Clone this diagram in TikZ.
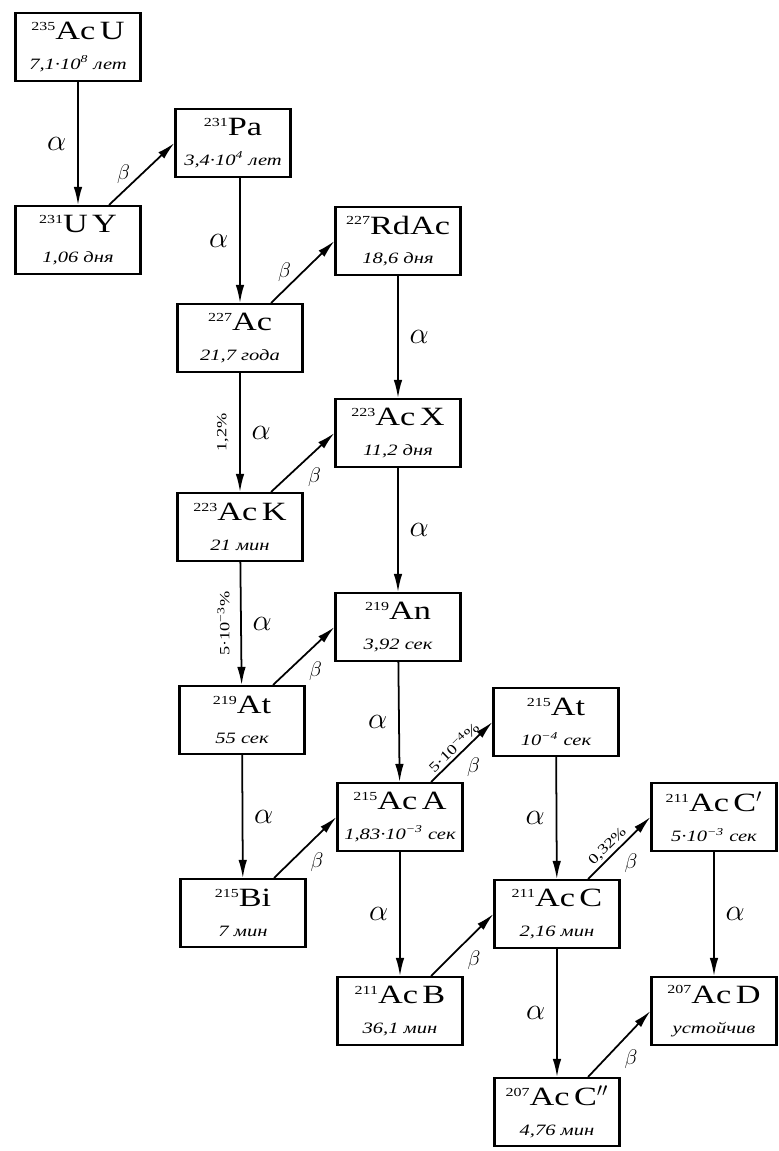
\documentclass[tikz,border=0pt]{standalone}
\usepackage{fontspec}
\setmainfont{Liberation Serif}[FakeStretch=1.3]
\usetikzlibrary{arrows.meta,positioning}

\newcommand{\iso}[2]{\raisebox{5.5pt}{\fontsize{7}{8}\selectfont #1}#2}
\newcommand{\hlife}[1]{{\fontsize{9}{10}\selectfont\itshape #1}}

\begin{document}
\begin{tikzpicture}[x=0.2mm, y=-0.2mm,
  every node/.style={font=\fontsize{15}{17}\selectfont},
  nbox/.style={draw, line width=1.2pt, minimum width=2.5cm,
               minimum height=1.36cm, align=center, inner sep=1pt},
  decay/.style={line width=1pt, -{Latex[length=3.6mm,width=1.7mm]}},
  alab/.style={font=\fontsize{17}{19}\selectfont},
  blab/.style={font=\fontsize{12}{14}\selectfont},
  brlab/.style={font=\fontsize{8}{9}\selectfont},
]
\useasboundingbox (0,0) rectangle (779,1151);

% nuclides
\node[nbox] (acu) at (78,47) {\iso{235}{Ac\,U}\\\hlife{7,1·10\textsuperscript{8} лет}};
\node[nbox] (uy) at (78,240) {\iso{231}{U\,Y}\\\hlife{1,06 дня}};
\node[nbox, minimum width=2.3cm] (pa) at (233,143) {\iso{231}{Pa}\\\hlife{3,4·10\textsuperscript{4} лет}};
\node[nbox] (ac) at (240,338) {\iso{227}{Ac}\\\hlife{21,7 года}};
\node[nbox] (rdac) at (398,241) {\iso{227}{RdAc}\\\hlife{18,6 дня}};
\node[nbox] (acx) at (398,433) {\iso{223}{Ac\,X}\\\hlife{11,2 дня}};
\node[nbox] (ack) at (240,527) {\iso{223}{Ac\,K}\\\hlife{21 мин}};
\node[nbox] (an) at (398,627) {\iso{219}{An}\\\hlife{3,92 сек}};
\node[nbox] (at219) at (242,720) {\iso{219}{At}\\\hlife{55 сек}};
\node[nbox] (acA) at (400,817) {\iso{215}{Ac\,A}\\\hlife{1,83·10\textsuperscript{−3} сек}};
\node[nbox] (at215) at (556,722) {\iso{215}{At}\\\hlife{10\textsuperscript{−4} сек}};
\node[nbox] (bi) at (243,913) {\iso{215}{Bi}\\\hlife{7 мин}};
\node[nbox] (acC) at (557,914) {\iso{211}{Ac\,C}\\\hlife{2,16 мин}};
\node[nbox] (acCp) at (714,817) {\iso{211}{Ac\,C$'$}\\\hlife{5·10\textsuperscript{−3} сек}};
\node[nbox] (acB) at (400,1011) {\iso{211}{Ac\,B}\\\hlife{36,1 мин}};
\node[nbox] (acD) at (714,1011) {\iso{207}{Ac\,D}\\\hlife{устойчив}};
\node[nbox] (acCpp) at (557,1112) {\iso{207}{Ac\,C$''$}\\\hlife{4,76 мин}};

% alpha decays
\draw[decay] (acu) -- node[alab, left=1mm] {$\alpha$} (uy);
\draw[decay] (pa.south -| ac.north) -- node[alab, left=1mm] {$\alpha$} (ac.north);
\draw[decay] (rdac) -- node[alab, right=1mm] {$\alpha$} (acx);
\draw[decay] (ac) -- node[alab, right=1mm] {$\alpha$}
  node[brlab, midway, rotate=90, anchor=south, inner sep=6pt] {1,2\%} (ack);
\draw[decay] (acx) -- node[alab, right=1mm] {$\alpha$} (an);
\draw[decay] (ack) -- node[alab, right=1mm] {$\alpha$}
  node[brlab, midway, rotate=90, anchor=south, inner sep=6pt] {5·10\textsuperscript{−3}\%} (at219);
\draw[decay] (an) -- node[alab, left=1mm] {$\alpha$} (acA);
\draw[decay] (at219) -- node[alab, right=1mm] {$\alpha$} (bi);
\draw[decay] (acA) -- node[alab, left=1mm] {$\alpha$} (acB);
\draw[decay] (at215) -- node[alab, left=1mm] {$\alpha$} (acC);
\draw[decay] (acC) -- node[alab, left=1mm] {$\alpha$} (acCpp);
\draw[decay] (acCp) -- node[alab, right=1mm] {$\alpha$} (acD);

% beta decays
\draw[decay] ([xshift=-6.5mm]uy.north east) -- node[blab, left=1mm] {$\beta$} (pa.west);
\draw[decay] ([xshift=-6.5mm]ac.north east) -- node[blab, left=1mm] {$\beta$} (rdac.west);
\draw[decay] ([xshift=-6.5mm]ack.north east) -- node[blab, below right=-1pt] {$\beta$} (acx.west);
\draw[decay] ([xshift=-6.5mm]at219.north east) -- node[blab, below right=-1pt] {$\beta$} (an.west);
\draw[decay] ([xshift=-6.5mm]bi.north east) -- node[blab, below right=-1pt] {$\beta$} (acA.west);
\draw[decay] ([xshift=-6.5mm]acA.north east) --
  node[brlab, pos=0.47, sloped, above, inner sep=1.5pt] {5·10\textsuperscript{−4}\%}
  node[blab, below right=-1pt] {$\beta$} (at215.west);
\draw[decay] ([xshift=-6.5mm]acB.north east) -- node[blab, below right=-1pt] {$\beta$} (acC.west);
\draw[decay] ([xshift=-6.5mm]acC.north east) --
  node[brlab, pos=0.42, sloped, above, inner sep=1.5pt] {0,32\%}
  node[blab, below right=-1pt] {$\beta$} (acCp.west);
\draw[decay] ([xshift=-6.5mm]acCpp.north east) -- node[blab, below right=-1pt] {$\beta$} (acD.west);
\end{tikzpicture}
\end{document}
